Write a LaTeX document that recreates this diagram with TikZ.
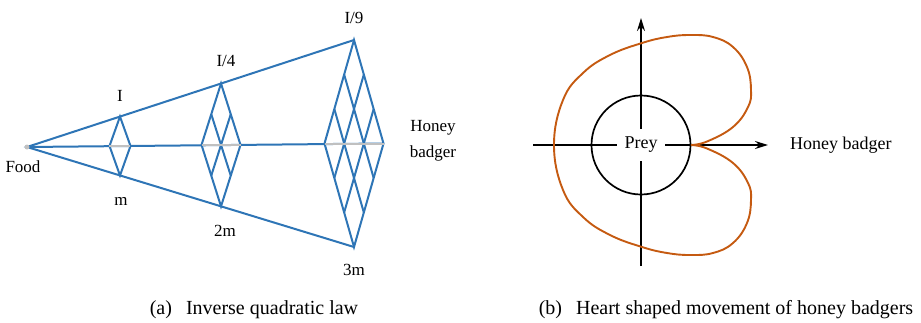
\documentclass[tikz,border=0pt]{standalone}
\usepackage{fontspec}
\setmainfont{Liberation Serif}
\usetikzlibrary{positioning, arrows.meta, calc}

\definecolor{coneblue}{RGB}{46,117,182}
\definecolor{heartorange}{RGB}{197,90,17}
\definecolor{midgray}{RGB}{192,192,192}

\begin{document}
\begin{tikzpicture}
    [
        x=1pt, y=-1pt,
        cone/.style={draw=coneblue, line width=2pt, line join=miter},
        midline/.style={draw=midgray, line width=2pt},
        axis/.style={draw=black, line width=1.7pt, -{Stealth[length=13pt, width=8pt]}},
        heart/.style={draw=heartorange, line width=1.9pt},
        small/.style={font=\fontsize{17}{26}\selectfont, inner sep=0pt, align=center},
        big/.style={font=\fontsize{18}{22}\selectfont, inner sep=0pt},
        caption/.style={font=\fontsize{20}{24}\selectfont, inner sep=0pt}
    ]
        \useasboundingbox (0,0) rectangle (921,322);
        % =========================================================================
        % (a) CONE
        % =========================================================================
        \coordinate (food) at (27,147);
        \coordinate (apex top) at (354,40);
        \coordinate (apex bottom) at (354,247);

        % --- Diamonds ---
        \foreach \n/\f/\hw in {1/0.2844/10.5, 2/0.5933/19.5, 3/1/29.5}{
            \coordinate (t\n) at ($(food)!\f!(apex top)$);
            \coordinate (b\n) at ($(food)!\f!(apex bottom)$);
            \coordinate (c\n) at ($(t\n)!0.5!(b\n)$);
            \coordinate (l\n) at ($(c\n)+(-\hw,0)$);
            \coordinate (r\n) at ($(c\n)+(\hw,0)$);
        }

        \draw [cone] (t3) -- (food) -- (b3);
        \draw [cone] (food) -- (r3);

        \foreach \n in {1,2,3}{
            \draw [cone] (l\n) -- (t\n) -- (r\n) -- (b\n) -- cycle;
            \ifnum\n>1
                \foreach \i in {1,...,\numexpr\n-1\relax}{
                    \draw [cone] ($(l\n)!\i/\n!(t\n)$) -- ($(b\n)!\i/\n!(r\n)$);
                    \draw [cone] ($(l\n)!\i/\n!(b\n)$) -- ($(t\n)!\i/\n!(r\n)$);
                }
            \fi
            \draw [midline] (l\n) -- (r\n);
        }
        \fill [midgray] (food) circle (2.5pt);

        % --- Labels ---
        \node [small] (food label) at (23,167) {Food};
        \node [small] (i1) at (120,96) {I};
        \node [small] (i4) at (226,61) {I/4};
        \node [small] (i9) at (354,18) {I/9};
        \node [small] (m1) at (121,201) {m};
        \node [small] (m2) at (225,231) {2m};
        \node [small] (m3) at (354,270) {3m};
        \node [small] (badger left) at (433,141) {Honey\\badger};

        % =========================================================================
        % (b) HEART
        % =========================================================================
        \coordinate (prey) at (641,145);
        \coordinate (x start) at (533,145);
        \coordinate (x end) at (768,145);
        \coordinate (y start) at (641,266);
        \coordinate (y end) at (641,18);

        \draw [axis] (x start) -- (x end);
        \draw [axis] (y start) -- (y end);
        \draw [black, line width=1.7pt] (prey) circle [radius=49.5pt];
        \node [big, fill=white, inner xsep=7.5pt, inner ysep=8pt] (prey label) at (prey) {Prey};
        \node [big, right=22pt of x end] (badger right) {Honey badger};

        \draw [heart] plot [smooth, tension=0.7] coordinates {
            (691,145) (707,141.5) (733,127) (748,107) (751,90) (747,67) (733,47)
            (713,37) (690,35) (667,37) (642,43) (610,55) (583,73) (563,100) (554,145)
            (563,190) (583,217) (610,235) (642,247) (667,253) (690,255) (713,253)
            (733,243) (747,223) (751,200) (748,183) (733,163) (707,148.5) (691,145)};

        % =========================================================================
        % CAPTIONS
        % =========================================================================
        \node [caption] (cap a) at (254,310) {(a)\hspace{0.7em}Inverse quadratic law};
        \node [caption] (cap b) at (726,310) {(b)\hspace{0.7em}Heart shaped movement of honey badgers};
    \end{tikzpicture}
\end{document}
